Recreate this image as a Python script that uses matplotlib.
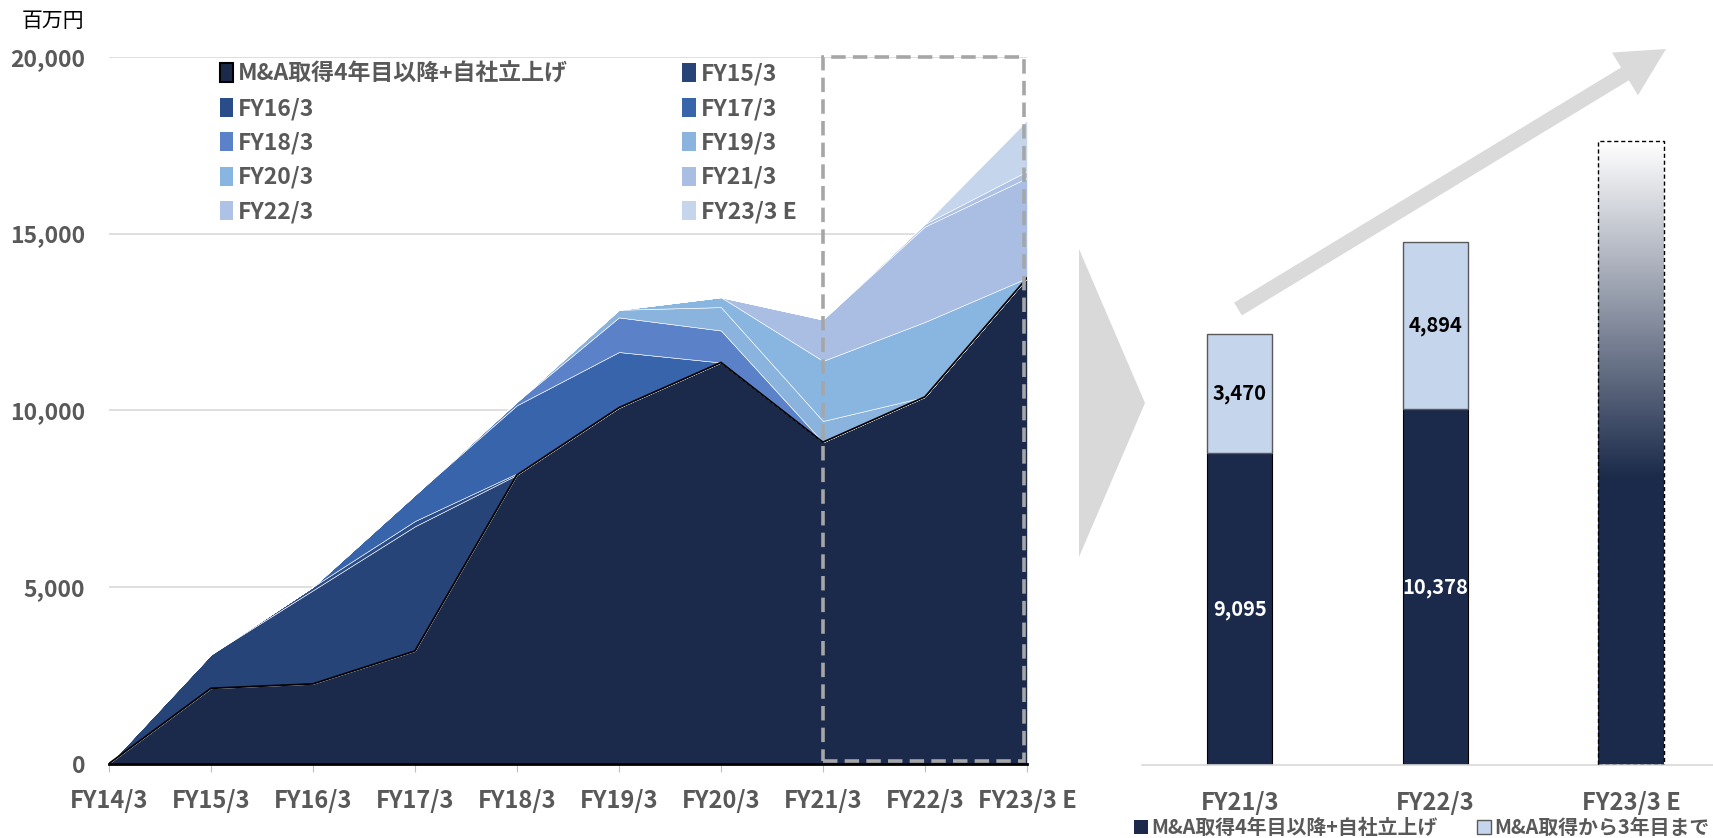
# M&A cohort revenue: stacked area (left) + stacked bars (right)
import numpy as np
import matplotlib.pyplot as plt
from matplotlib.patches import Patch, Rectangle, Polygon, FancyArrow
from matplotlib.colors import LinearSegmentedColormap

plt.rcParams['font.family'] = ['Noto Sans CJK JP', 'DejaVu Sans']

# ---- data (百万円) ----
years = ['FY14/3', 'FY15/3', 'FY16/3', 'FY17/3', 'FY18/3',
         'FY19/3', 'FY20/3', 'FY21/3', 'FY22/3', 'FY23/3 E']
base_label = 'M&A取得4年目以降+自社立上げ'
base = [0, 2130, 2255, 3185, 8170, 10070, 11350, 9095, 10378, 13740]
fy15 = [0, 960, 2650, 3530, 0, 0, 0, 0, 0, 0]
fy16 = [0, 0, 100, 150, 40, 0, 0, 0, 0, 0]
fy17 = [0, 0, 0, 742, 1930, 1576, 0, 0, 0, 0]
fy18 = [0, 0, 0, 0, 100, 980, 906, 0, 0, 0]
fy19 = [0, 0, 0, 0, 0, 216, 661, 600, 0, 0]
fy20 = [0, 0, 0, 0, 0, 0, 280, 1700, 2120, 0]
fy21 = [0, 0, 0, 0, 0, 0, 0, 1170, 2700, 2830]
fy22 = [0, 0, 0, 0, 0, 0, 0, 0, 74, 190]
fy23 = [0, 0, 0, 0, 0, 0, 0, 0, 0, 1440]
cohort_labels = ['FY15/3', 'FY16/3', 'FY17/3', 'FY18/3', 'FY19/3',
                 'FY20/3', 'FY21/3', 'FY22/3', 'FY23/3 E']
cohorts = [fy15, fy16, fy17, fy18, fy19, fy20, fy21, fy22, fy23]

bar_years = ['FY21/3', 'FY22/3', 'FY23/3 E']
own_biz = [9095, 10378]          # M&A取得4年目以降+自社立上げ
recent_ma = [3470, 4894]         # M&A取得から3年目まで
fy23_est = 18200
recent_label = 'M&A取得から3年目まで'

navy = '#1B2A4A'
cohort_colors = ['#264478', '#2A4C88', '#3864AC', '#5B82C8', '#8AB4DE',
                 '#88B6E0', '#AABEE4', '#AEC2E6', '#C5D5EC']
gray_txt = '#595959'

fig = plt.figure(figsize=(17.13, 8.38), dpi=100)

# ---- left: stacked area ----
ax = fig.add_axes([0.0636, 0.0888, 0.5359, 0.8434])
x = np.arange(len(years))
ax.stackplot(x, base, *cohorts, colors=[navy] + cohort_colors,
             edgecolor='white', linewidth=0.4)
ax.plot(x, base, color='black', lw=1.3, zorder=3)

ax.set_xlim(0, len(years) - 1)
ax.set_ylim(0, 20000)
ax.set_yticks(range(0, 20001, 5000))
ax.set_yticklabels([f'{v:,}' for v in range(0, 20001, 5000)],
                   fontsize=16.5, fontweight='bold', color=gray_txt)
ax.set_xticks(x)
ax.set_xticklabels(years, fontsize=17, fontweight='bold', color=gray_txt)
ax.tick_params(axis='y', length=0, pad=17)
ax.tick_params(axis='x', length=6, color='#BFBFBF', pad=12)
ax.grid(axis='y', color='#D9D9D9', lw=1.2)
ax.set_axisbelow(True)
for s in ['top', 'right', 'left']:
    ax.spines[s].set_visible(False)
ax.spines['bottom'].set_color('black')
ax.spines['bottom'].set_linewidth(2)
ax.spines['bottom'].set_zorder(4)

ax.add_patch(Rectangle((7, 80), 1.97, 19920, fill=False, edgecolor='#A6A6A6',
                       lw=2.6, linestyle=(0, (4, 2)), clip_on=False, zorder=6))

handles = [Patch(facecolor=navy, edgecolor='black', lw=1.5)] + \
          [Patch(facecolor=c, edgecolor='none') for c in cohort_colors]
labels = [base_label] + cohort_labels
order = [0, 2, 4, 6, 8, 1, 3, 5, 7, 9]
leg = ax.legend([handles[i] for i in order], [labels[i] for i in order],
                ncol=2, loc='upper left', bbox_to_anchor=(0.108, 1.008),
                frameon=False, labelcolor=gray_txt,
                handlelength=0.6, handleheight=0.9, handletextpad=0.2,
                labelspacing=0.5, columnspacing=5.0, borderpad=0,
                prop={'weight': 'bold', 'size': 16.5})

fig.text(0.0128, 0.975, '百万円', fontsize=15, va='center', ha='left')

# ---- right: stacked bars ----
axr = fig.add_axes([0.6667, 0.0871, 0.3333, 0.818])
axr.patch.set_visible(False)
w = 0.334
xb = np.arange(len(bar_years))
axr.bar(xb[:2], own_biz, width=w, color=navy, edgecolor='black', lw=0.8, zorder=2)
axr.bar(xb[:2], recent_ma, width=w, bottom=own_biz, color='#C5D5EC',
        edgecolor=gray_txt, lw=1, zorder=2)
est = axr.bar(xb[2], fy23_est, width=w, facecolor='none', edgecolor='black',
              lw=1, linestyle=(0, (3, 2)), zorder=3)
cmap = LinearSegmentedColormap.from_list(
    'est', [(0, navy), (0.46, navy), (1.0, '#FFFFFF')])
grad = np.linspace(0, 1, 256).reshape(-1, 1)
im = axr.imshow(grad, extent=[xb[2] - w / 2, xb[2] + w / 2, 0, fy23_est],
                origin='lower', cmap=cmap, aspect='auto', zorder=2)
im.set_clip_path(est[0])

for i in range(2):
    axr.text(xb[i], own_biz[i] / 2, f'{own_biz[i]:,}', ha='center', va='center',
             color='white', fontsize=14.5, fontweight='bold')
    axr.text(xb[i], own_biz[i] + recent_ma[i] / 2, f'{recent_ma[i]:,}',
             ha='center', va='center', color='black', fontsize=14.5,
             fontweight='bold')

axr.set_xlim(-0.5, 2.42)
axr.set_ylim(0, 20000)
axr.set_xticks(xb)
axr.set_xticklabels(bar_years, fontsize=17, fontweight='bold', color=gray_txt)
axr.tick_params(axis='x', length=0, pad=19)
axr.set_yticks([])
for s in ['top', 'right', 'left']:
    axr.spines[s].set_visible(False)
axr.spines['bottom'].set_color('#D9D9D9')
axr.spines['bottom'].set_linewidth(1.2)

rh = [Patch(facecolor=navy, edgecolor='none'),
      Patch(facecolor='#C5D5EC', edgecolor=gray_txt, lw=1)]
fig.legend(rh, [base_label, recent_label], loc='center',
           bbox_to_anchor=(0.830, 0.013), ncol=2, frameon=False,
           labelcolor=gray_txt, handlelength=0.7, handleheight=0.7,
           handletextpad=0.15, columnspacing=2.0,
           prop={'weight': 'bold', 'size': 14.3})

# overlay in pixel units for the chevron and the arrow
ov = fig.add_axes([0, 0, 1, 1])
ov.set_zorder(10)
ov.set_xlim(0, 1713)
ov.set_ylim(838, 0)
ov.axis('off')
ov.add_patch(Polygon([(1079, 249), (1145, 403), (1079, 557)], closed=True,
                     facecolor='#D9D9D9', edgecolor='none'))
ov.add_patch(FancyArrow(1238, 309, 428, -260, width=15, head_width=50,
                        head_length=48, length_includes_head=True,
                        facecolor='#DADADA', edgecolor='none'))

fig.savefig('out.png', dpi=100)
